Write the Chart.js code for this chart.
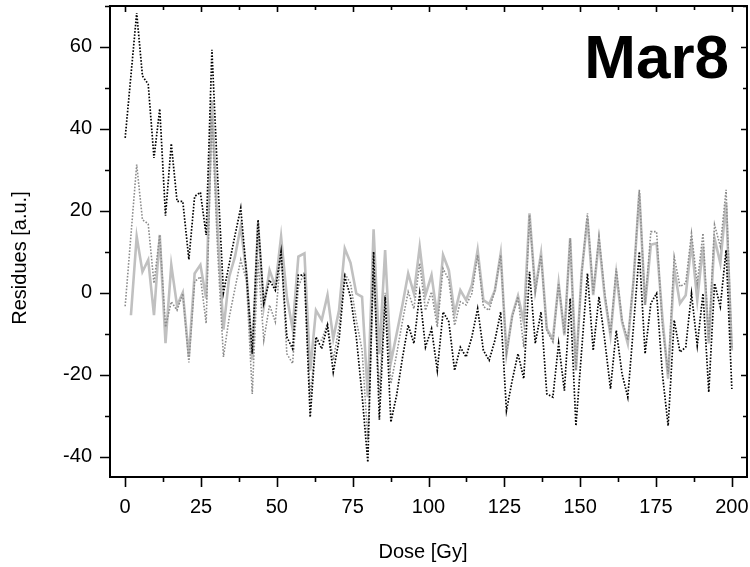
<!DOCTYPE html>
<html><head><meta charset="utf-8">
<script src="https://cdn.jsdelivr.net/npm/chart.js@4/dist/chart.umd.min.js"></script>
<style>html,body{margin:0;padding:0;background:#fff}#wrap{width:750px;height:567px;position:relative}</style>
</head><body><div id="wrap"><canvas id="c" width="750" height="567"></canvas></div>
<script>
const doses = [0,1.9,3.8,5.7,7.6,9.5,11.4,13.3,15.2,17.1,19.0,21.0,22.9,24.8,26.7,28.6,30.5,32.4,34.3,36.2,38.1,40.0,41.9,43.8,45.7,47.6,49.5,51.4,53.3,55.2,57.1,59.1,61.0,62.9,64.8,66.7,68.6,70.5,72.4,74.3,76.2,78.1,80.0,81.9,83.8,85.7,87.6,89.5,91.4,93.3,95.2,97.1,99.0,101.0,102.9,104.8,106.7,108.6,110.5,112.4,114.3,116.2,118.1,120.0,121.9,123.8,125.7,127.6,129.5,131.4,133.3,135.2,137.1,139.0,141.0,142.9,144.8,146.7,148.6,150.5,152.4,154.3,156.2,158.1,160.0,161.9,163.8,165.7,167.6,169.5,171.4,173.3,175.2,177.1,179.0,181.0,182.9,184.8,186.7,188.6,190.5,192.4,194.3,196.2,198.1,200.0];
const residBlackDotted = [37.8,53,68.3,52.9,50.9,32.9,44.9,18.8,36.4,22.3,22.3,8.1,23.5,24.5,14.1,59.3,28,0,7,14,20.7,4.7,-14.9,17.8,-2.6,3.1,0.6,10,-10.8,-13.7,4.3,4.3,-30.4,-10.8,-13.7,-8,-19.4,-11.6,3.9,-1,-10.8,-25,-41.4,10,-31,-1,-31.6,-25,-16,-7.9,-12.4,-0.2,-13.3,-8.8,-19,-4.7,-7.1,-19,-13.3,-15.7,-10.8,-3.9,-14.1,-16.5,-11.6,-4.7,-28.8,-21.4,-14.9,-21,5.1,-12.4,-4.7,-24.7,-25.5,-12.4,-23.9,-1.4,-32.5,-14,4.7,-14.1,-1,-11.6,-23.5,-9.2,-19.8,-25.5,-8,10,-14.9,-2.6,-0.2,-19.8,-32.5,-6.7,-14.5,-13.3,-0.2,-12.9,-0.2,-24.3,2.3,-3.4,10.4,-23.5];
const residGreyDotted = [-3.3,14,31.3,17.8,16.8,2.3,14.1,-8.4,-2.2,-4.3,-0.2,-17,2.7,3.9,-7.5,43,10,-15.7,-6,1,8,3,-24.7,8,-11.6,-3,-7.1,10.4,-14.9,-17.3,1.5,5,-25.5,-11.6,-11.6,-7.5,-16.5,-8.4,4.7,2.3,-6.7,-14,-36,4.7,-24.7,0,-22.2,-15,-7,0.2,-3.9,7.2,-4.3,0.2,-8.4,5.9,3.1,-8,-2.2,-3,-0.2,9.2,-3.4,-4.3,0.6,9.2,-14.9,-5.9,-1,-13.3,19,0.2,9.2,-9.2,-12,2.3,-10,13.3,-19,4.7,19.4,-0.2,13.7,-0.2,-10,5.9,-6.7,-11.6,3,25.1,-3,14.9,14.9,-8,-19.8,8.8,1.5,2.3,14.5,2.3,14.5,-11.6,16.6,11.3,25.1,-13.3];
const residGreySolid = [null,-5.5,13.7,5.1,8,-5.5,14.1,-12.3,6.8,-3.2,0,-15.7,4.7,6.8,-1.4,47,15,-9,3.9,8.8,16.2,4.7,-16.5,17,-3.4,5.5,1.5,13.7,-1,-8.8,8.8,9.6,-19,-4.3,-6.7,-0.6,-11.2,-4.3,10.8,7.3,-0.2,-1,-25.5,15.5,-15,10.4,-17,-10,-3,4.7,-0.2,11.2,-0.6,4.3,-5.9,9.2,5.5,-5.1,0.6,-1.8,1.9,10.4,-1.8,-2.8,0.6,9.6,-14.9,-5.5,-0.8,-7.1,19.4,0.6,9.6,-8.8,-11.4,2.3,-10.4,13.3,-19,5,18.2,-0.6,12.9,-1,-10.4,4.7,-7.1,-12.4,3.1,24.3,-3,11.7,12.1,-6,-21,5.9,-2.6,-0.6,12.1,-1.8,11.3,-12.4,13.3,7.2,21.9,-14.1];
const xTickValues = [0,25,50,75,100,125,150,175,200];
const xMinorValues = [12.5,37.5,62.5,87.5,112.5,137.5,162.5,187.5];
const yTickValues = [-40,-20,0,20,40,60];
const yMinorValues = [-30,-10,10,30,50,70];
const panelLabel = 'Mar8';
const xTitle = 'Dose [Gy]';
const yTitle = 'Residues [a.u.]';

const FONT = '"Liberation Sans", Arial, sans-serif';

const framePlugin = {
  id: 'frame',
  afterDraw(chart) {
    const {ctx, chartArea: a, scales: {x, y}} = chart;
    ctx.save();
    ctx.strokeStyle = '#000';
    ctx.lineWidth = 2;
    ctx.strokeRect(a.left, a.top, a.right - a.left, a.bottom - a.top);
    ctx.lineWidth = 1.6;
    ctx.beginPath();
    const xt = (vals, outLen, inLen) => vals.forEach(v => {
      if (v < x.min || v > x.max) return;
      const px = Math.round(x.getPixelForValue(v)) + 0.5;
      ctx.moveTo(px, a.bottom); ctx.lineTo(px, a.bottom + outLen);
      ctx.moveTo(px, a.top); ctx.lineTo(px, a.top + inLen);
    });
    const yt = (vals, outLen, inLen) => vals.forEach(v => {
      if (v < y.min || v > y.max) return;
      const py = Math.round(y.getPixelForValue(v)) + 0.5;
      ctx.moveTo(a.left, py); ctx.lineTo(a.left - outLen, py);
      ctx.moveTo(a.right, py); ctx.lineTo(a.right - inLen, py);
    });
    xt(xTickValues, 10, 6);
    xt(xMinorValues, 5, 4);
    yt(yTickValues, 10, 6);
    yt(yMinorValues, 5, 4);
    ctx.stroke();
    ctx.fillStyle = '#000';
    ctx.font = 'bold 62px ' + FONT;
    ctx.textAlign = 'right';
    ctx.textBaseline = 'alphabetic';
    ctx.fillText(panelLabel, 729, 78);
    // axis titles
    ctx.font = '20px ' + FONT;
    ctx.textAlign = 'center';
    ctx.textBaseline = 'middle';
    ctx.fillText(xTitle, 423, 552);
    ctx.translate(20, 258);
    ctx.rotate(-Math.PI / 2);
    ctx.fillText(yTitle, 0, 0);
    ctx.restore();
  }
};

const pts = arr => doses.map((d, i) => ({x: d, y: arr[i]}));

new Chart(document.getElementById('c'), {
  type: 'line',
  data: {
    datasets: [
      {label: 'black dotted', data: pts(residBlackDotted), borderColor: '#000', borderWidth: 1.7, borderDash: [1.6, 1.6], pointRadius: 0, fill: false, tension: 0},
      {label: 'grey dotted', data: pts(residGreyDotted), borderColor: '#8c8c8c', borderWidth: 1.6, borderDash: [1.6, 1.6], pointRadius: 0, fill: false, tension: 0},
      {label: 'grey solid', data: pts(residGreySolid), borderColor: '#c0c0c0', borderWidth: 2.6, pointRadius: 0, fill: false, tension: 0}
    ]
  },
  options: {
    responsive: false,
    animation: false,
    devicePixelRatio: 1,
    layout: {padding: {left: 0, right: 3, top: 6, bottom: 0}},
    plugins: {legend: {display: false}, tooltip: {enabled: false}},
    scales: {
      x: {
        type: 'linear', min: -5, max: 205,
        afterBuildTicks: ax => { ax.ticks = xTickValues.map(v => ({value: v})); },
        afterFit: s => { s.height = 90; s.paddingLeft = 0; s.paddingRight = 0; s.paddingTop = 0; s.paddingBottom = 0; },
        ticks: {font: {family: FONT, size: 20}, color: '#000', padding: 18, maxRotation: 0, autoSkip: false},
        grid: {display: false, drawTicks: false},
        border: {display: false},
        title: {display: false}
      },
      y: {
        type: 'linear', min: -45, max: 70,
        afterBuildTicks: ax => { ax.ticks = yTickValues.map(v => ({value: v})); },
        afterFit: s => { s.width = 110; s.paddingLeft = 0; s.paddingRight = 0; s.paddingTop = 0; s.paddingBottom = 0; },
        ticks: {font: {family: FONT, size: 20}, color: '#000', padding: 18},
        grid: {display: false, drawTicks: false},
        border: {display: false},
        title: {display: false}
      }
    }
  },
  plugins: [framePlugin]
});
</script>
</body></html>
